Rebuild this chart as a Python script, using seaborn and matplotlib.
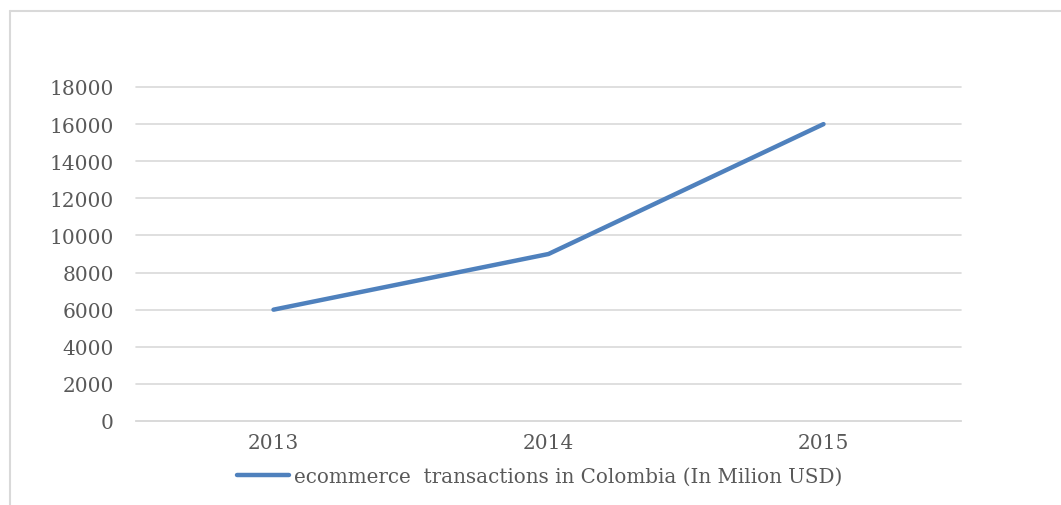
import matplotlib
matplotlib.use("Agg")
import matplotlib.pyplot as plt
import seaborn as sns
import pandas as pd
from matplotlib.lines import Line2D

years = ["2013", "2014", "2015"]
values = [6000, 9000, 16000]
series_name = "ecommerce  transactions in Colombia (In Milion USD)"
y_ticks = [0, 2000, 4000, 6000, 8000, 10000, 12000, 14000, 16000, 18000]

df = pd.DataFrame({"year": years, "value": values})

sns.set_theme(style="white")
plt.rcParams["font.family"] = ["DejaVu Serif"]

text_color = "#595959"
grid_color = "#D9D9D9"
line_color = "#4F81BD"

fig = plt.figure(figsize=(10.61, 5.06), dpi=100)
ax = fig.add_axes([136 / 1061, 1 - 422 / 506, (961 - 136) / 1061, (422 - 88) / 506])

sns.lineplot(data=df, x="year", y="value", ax=ax, color=line_color, linewidth=3.2,
             sort=False, legend=False)
ax.lines[0].set_solid_capstyle("round")

ax.set_xlim(-0.5, 2.5)
ax.set_ylim(0, 18000)
ax.set_yticks(y_ticks)
ax.set_yticklabels([str(t) for t in y_ticks])
ax.yaxis.grid(True, color=grid_color, linewidth=1.2)
for gl in ax.get_ygridlines():
    gl.set_clip_on(False)
ax.xaxis.grid(False)
for s in ["top", "right", "left"]:
    ax.spines[s].set_visible(False)
ax.spines["bottom"].set_color(grid_color)
ax.spines["bottom"].set_linewidth(1.2)
ax.tick_params(axis="both", length=0, colors=text_color, labelsize=14.5)
ax.tick_params(axis="y", pad=16)
ax.tick_params(axis="x", pad=9)
ax.set_xlabel("")
ax.set_ylabel("")

handle = Line2D([], [], color=line_color, linewidth=3.2, solid_capstyle="round")
fig.legend([handle], [series_name], loc="center", bbox_to_anchor=(539.5 / 1061, 1 - 477 / 506),
           frameon=False, fontsize=14.3, labelcolor=text_color, handlelength=2.65,
           handletextpad=0.25, borderaxespad=0, borderpad=0)

# outer chart border (top and left visible)
fig.add_artist(Line2D([10 / 1061, 1.0], [1 - 12 / 506, 1 - 12 / 506], transform=fig.transFigure,
                      color="#D9D9D9", linewidth=1.5))
fig.add_artist(Line2D([10 / 1061, 10 / 1061], [1 - 12 / 506, 0], transform=fig.transFigure,
                      color="#D9D9D9", linewidth=1.5))

fig.savefig("out.png", dpi=100, facecolor="white")
